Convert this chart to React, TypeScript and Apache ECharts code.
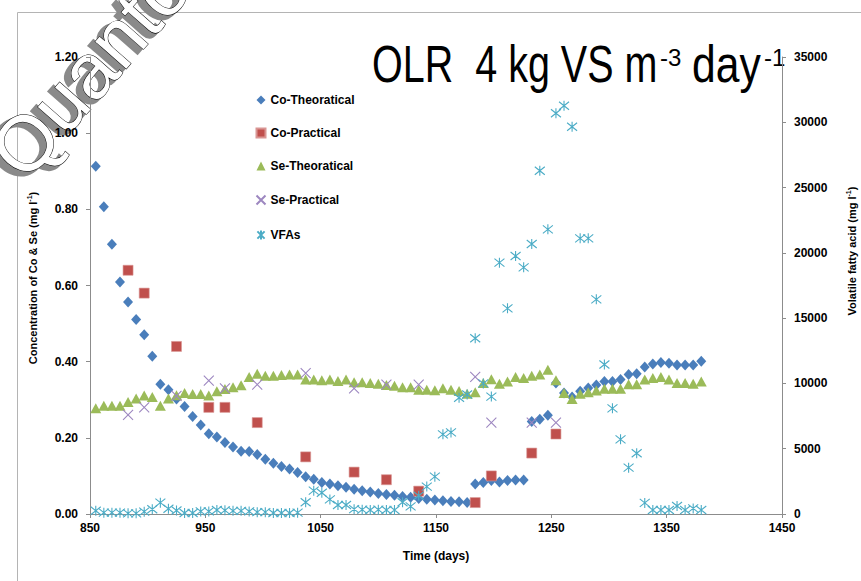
import React, { useEffect, useRef } from 'react';
import * as echarts from 'echarts';

const days = [
  855, 862, 869, 876, 883, 890, 897, 904, 911, 918,
  925, 932, 939, 946, 953, 960, 967, 974, 981, 988,
  995, 1002, 1009, 1016, 1023, 1030, 1037, 1044, 1051, 1058,
  1065, 1072, 1079, 1086, 1093, 1100, 1107, 1114, 1121, 1128,
  1135, 1142, 1149, 1156, 1163, 1170, 1177, 1184, 1191, 1198,
  1205, 1212, 1219, 1226, 1233, 1240, 1247, 1254, 1261, 1268,
  1275, 1282, 1289, 1296, 1303, 1310, 1317, 1324, 1331, 1338,
  1345, 1352, 1359, 1366, 1373, 1380,
];

const coTheoretical = [
  0.913, 0.807, 0.708, 0.609, 0.557, 0.511, 0.471, 0.414, 0.341, 0.326,
  0.302, 0.282, 0.256, 0.234, 0.211, 0.202, 0.188, 0.176, 0.165, 0.164,
  0.156, 0.144, 0.133, 0.125, 0.118, 0.109, 0.098, 0.091, 0.083, 0.079,
  0.074, 0.070, 0.065, 0.061, 0.058, 0.054, 0.051, 0.049, 0.046, 0.044,
  0.041, 0.039, 0.037, 0.035, 0.033, 0.032, 0.030, 0.079, 0.083, 0.088,
  0.084, 0.088, 0.089, 0.089, 0.243, 0.249, 0.259, 0.344, 0.318, 0.307,
  0.322, 0.331, 0.339, 0.348, 0.348, 0.353, 0.366, 0.368, 0.386, 0.394,
  0.398, 0.396, 0.391, 0.391, 0.391, 0.401,
];

const seTheoretical = [
  0.278, 0.284, 0.284, 0.284, 0.294, 0.303, 0.311, 0.307, 0.284, 0.303,
  0.312, 0.318, 0.315, 0.315, 0.311, 0.322, 0.328, 0.333, 0.338, 0.360,
  0.368, 0.363, 0.363, 0.365, 0.366, 0.366, 0.353, 0.353, 0.351, 0.353,
  0.349, 0.353, 0.346, 0.346, 0.344, 0.342, 0.339, 0.337, 0.333, 0.333,
  0.326, 0.326, 0.325, 0.330, 0.326, 0.323, 0.316, 0.320, 0.344, 0.354,
  0.342, 0.348, 0.360, 0.357, 0.363, 0.366, 0.379, 0.351, 0.318, 0.302,
  0.316, 0.320, 0.324, 0.329, 0.329, 0.329, 0.341, 0.341, 0.353, 0.357,
  0.360, 0.353, 0.344, 0.344, 0.342, 0.348,
];

const vfas = [
  250, 100, 100, 100, 51, 51, 180, 360, 870, 400,
  270, 80, 80, 200, 200, 306, 280, 240, 240, 200,
  140, 140, 80, 80, 80, 100, 900, 1790, 1630, 1120,
  690, 690, 370, 330, 306, 330, 306, 306, 900, 580,
  1400, 2100, 2860, 6100, 6250, 8900, 9150, 13460, 10000, 8990,
  19250, 15750, 19760, 18890, 20680, 26290, 21800, 30690, 31270, 29660,
  21110, 21110, 16440, 11450, 8090, 5720, 3550, 4650, 850, 306,
  306, 306, 610, 306, 430, 306,
];

const practicalDays = [883, 897, 925, 953, 967, 995, 1037, 1079, 1107, 1135, 1184, 1198, 1233, 1254];
const coPractical = [0.64, 0.58, 0.44, 0.28, 0.28, 0.24, 0.15, 0.11, 0.09, 0.06, 0.03, 0.10, 0.16, 0.21];
const sePractical = [0.26, 0.28, 0.31, 0.35, 0.33, 0.34, 0.37, 0.33, 0.34, 0.34, 0.36, 0.24, 0.24, 0.24];

const seriesNames = ['Co-Theoratical', 'Co-Practical', 'Se-Theoratical', 'Se-Practical', 'VFAs'];

const X_MIN = 850;
const X_MAX = 1450;
const X_STEP = 100;
const YL_MIN = 0;
const YL_MAX = 1.2;
const YL_STEP = 0.2;
const YR_MIN = 0;
const YR_MAX = 35000;
const YR_STEP = 5000;

const FONT = '"Liberation Sans", Arial, sans-serif';

const pair = (xs: number[], ys: number[]) => xs.map((x, i) => [x, ys[i]]);

export default function App() {
  const ref = useRef<HTMLDivElement>(null);
  useEffect(() => {
    document.body.style.margin = '0';
    if (!ref.current) return;
    const chart = echarts.init(ref.current, undefined, { renderer: 'svg' });
    const axisLabel = { fontFamily: FONT, fontWeight: 'bold' as const, fontSize: 12, color: '#000' };
    const axisLine = { show: true, lineStyle: { color: '#8c8c8c', width: 1 } };
    const axisTick = { show: true, inside: false, length: 4, lineStyle: { color: '#8c8c8c' } };
    const plain = (v: number) => String(v);
    chart.setOption({
      animation: false,
      backgroundColor: '#fff',
      grid: { left: 90, right: 79, top: 57, bottom: 67, containLabel: false },
      legend: {
        orient: 'vertical',
        left: 249,
        top: 89,
        itemWidth: 9,
        itemHeight: 9,
        itemGap: 21,
        data: seriesNames,
        textStyle: { fontFamily: FONT, fontWeight: 'bold', fontSize: 12, color: '#000' },
      },
      xAxis: {
        type: 'value', min: X_MIN, max: X_MAX, interval: X_STEP,
        axisLine, axisTick, splitLine: { show: false },
        axisLabel: { ...axisLabel, margin: 8, formatter: plain },
      },
      yAxis: [
        {
          type: 'value', min: YL_MIN, max: YL_MAX, interval: YL_STEP, position: 'left',
          axisLine, axisTick, splitLine: { show: false },
          axisLabel: { ...axisLabel, margin: 12, formatter: (v: number) => v.toFixed(2) },
        },
        {
          type: 'value', min: YR_MIN, max: YR_MAX, interval: YR_STEP, position: 'right',
          axisLine, axisTick, splitLine: { show: false },
          axisLabel: { ...axisLabel, margin: 12, formatter: plain },
        },
      ],
      series: [
        {
          name: seriesNames[0], type: 'scatter', yAxisIndex: 0,
          symbol: 'diamond', symbolSize: [10, 11],
          itemStyle: { color: '#4a7ebb', opacity: 1 },
          data: pair(days, coTheoretical),
        },
        {
          name: seriesNames[1], type: 'scatter', yAxisIndex: 0,
          symbol: 'rect', symbolSize: 10,
          itemStyle: { color: '#c0504d', borderColor: '#d99694', borderWidth: 0.6, opacity: 1 },
          data: pair(practicalDays, coPractical),
        },
        {
          name: seriesNames[2], type: 'scatter', yAxisIndex: 0,
          symbol: 'triangle', symbolSize: [11, 10],
          itemStyle: { color: '#9bbb59', opacity: 1 },
          data: pair(days, seTheoretical),
        },
        {
          name: seriesNames[3], type: 'scatter', yAxisIndex: 0,
          symbol: 'path://M0 0L10 10M10 0L0 10', symbolSize: 10,
          itemStyle: { color: 'none', borderColor: '#9d87c0', borderWidth: 1.1, opacity: 1 },
          data: pair(practicalDays, sePractical),
        },
        {
          name: seriesNames[4], type: 'scatter', yAxisIndex: 1,
          symbol: 'path://M1 1L9 9M9 1L1 9M5 0L5 10', symbolSize: 10,
          itemStyle: { color: 'none', borderColor: '#4bacc6', borderWidth: 1.1, opacity: 1 },
          data: pair(days, vfas),
        },
      ],
      graphic: [
        {
          type: 'rect', silent: true, z: -1,
          shape: { x: 17.5, y: 12.5, width: 900, height: 700 },
          style: { fill: 'none', stroke: '#b4b4b4', lineWidth: 1 },
        },
        {
          type: 'text', x: -30, y: 144, rotation: 0.85,
          style: { text: 'Quanto', font: '78px "Liberation Sans"', fill: '#8a8a8a', stroke: '#8a8a8a', lineWidth: 3 },
        },
        {
          type: 'text', x: -24, y: 140, rotation: 0.85,
          style: { text: 'Quanto', font: '78px "Liberation Sans"', fill: '#fff', stroke: '#000', lineWidth: 1 },
        },
        {
          type: 'text', x: 372, y: 64, scaleX: 0.76,
          style: { text: 'OLR  4 kg VS m', font: `52px ${FONT}`, fill: '#000', align: 'left', verticalAlign: 'middle' },
        },
        {
          type: 'text', x: 660, y: 57.5,
          style: { text: '-3', font: `24px ${FONT}`, fill: '#000', align: 'left', verticalAlign: 'middle' },
        },
        {
          type: 'text', x: 692, y: 64, scaleX: 0.82,
          style: { text: 'day', font: `52px ${FONT}`, fill: '#000', align: 'left', verticalAlign: 'middle' },
        },
        {
          type: 'text', x: 764, y: 57.5,
          style: { text: '-1', font: `24px ${FONT}`, fill: '#000', align: 'left', verticalAlign: 'middle' },
        },
        {
          type: 'text', x: 436, y: 556,
          style: { text: 'Time (days)', font: `bold 12px ${FONT}`, fill: '#000', align: 'center', verticalAlign: 'middle' },
        },
        {
          type: 'text', x: 33, y: 278, rotation: Math.PI / 2,
          style: {
            text: '{a|Concentration of Co & Se (mg l}{s|-1}{a|)}',
            align: 'center', verticalAlign: 'middle',
            rich: {
              a: { fontFamily: FONT, fontWeight: 'bold', fontSize: 11, fill: '#000', lineHeight: 14 },
              s: { fontFamily: FONT, fontWeight: 'bold', fontSize: 7, fill: '#000', lineHeight: 10, verticalAlign: 'top' },
            },
          },
        },
        {
          type: 'text', x: 852, y: 251, rotation: Math.PI / 2,
          style: {
            text: '{a|Volatile fatty acid (mg l}{s|-1}{a|)}',
            align: 'center', verticalAlign: 'middle',
            rich: {
              a: { fontFamily: FONT, fontWeight: 'bold', fontSize: 11, fill: '#000', lineHeight: 14 },
              s: { fontFamily: FONT, fontWeight: 'bold', fontSize: 7, fill: '#000', lineHeight: 10, verticalAlign: 'top' },
            },
          },
        },
      ],
    });
    return () => chart.dispose();
  }, []);
  return <div ref={ref} style={{ width: 861, height: 581 }} />;
}
